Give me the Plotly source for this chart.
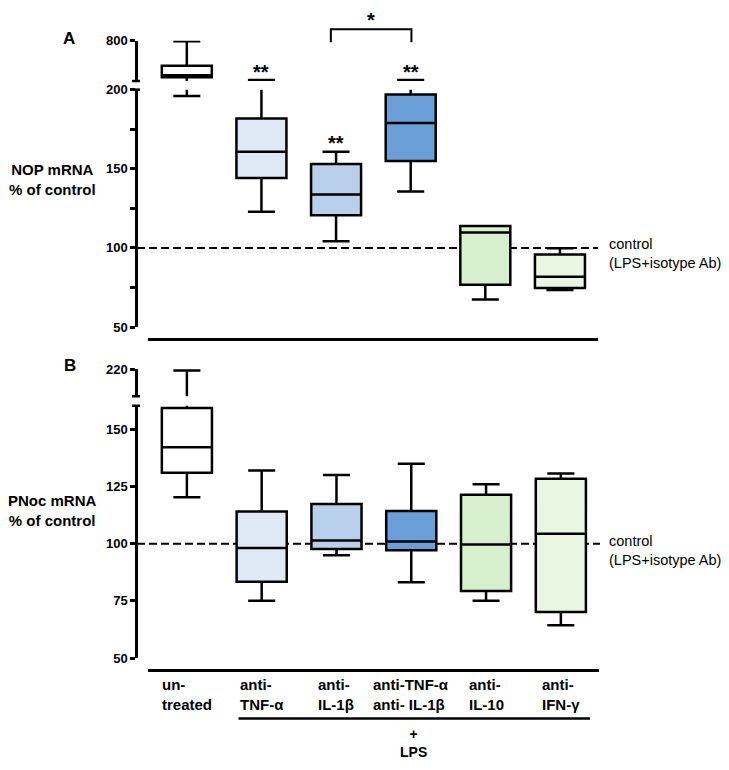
import plotly.graph_objects as go

W, H = 729, 770

# ---------------- data ----------------
categories = ["un-<br>treated", "anti-<br>TNF-α", "anti-<br>IL-1β",
              "anti-TNF-α<br>anti- IL-1β", "anti-<br>IL-10", "anti-<br>IFN-γ"]
box_colors = ["#ffffff", "#dfe9f5", "#b9d0ec", "#6b9fd8", "#d7efcd", "#e9f6e2"]

# Panel A: NOP mRNA % of control
nop_lower = [196, 122.9, 104.2, 135.6, 67.4, 73.4]
nop_q1 = [302, 144.2, 120.7, 155.0, 76.7, 74.6]
nop_median = [330, 160.7, 133.7, 178.9, 109.7, 81.8]
nop_q3 = [458, 181.8, 153.1, 196.9, 113.9, 95.9]
nop_upper = [790, 263, 160.7, 263, 113.9, 99.8]

# Panel B: PNoc mRNA % of control
pnoc_lower = [120.3, 75.1, 95.0, 83.1, 75.1, 64.3]
pnoc_q1 = [131.0, 83.4, 97.7, 97.1, 79.3, 70.1]
pnoc_median = [142.2, 98.1, 101.4, 101.0, 99.6, 104.4]
pnoc_q3 = [159.3, 114.1, 117.4, 114.3, 121.4, 128.4]
pnoc_upper = [218.5, 132.0, 130.0, 135.0, 126.0, 130.7]

control_value = 100

nop_ticks_low = [50, 75, 100, 125, 150, 175, 200]
nop_ticktext_low = ["50", "", "100", "", "150", "", "200"]
nop_ticks_high = [800]
pnoc_ticks_low = [50, 75, 100, 125, 150]
pnoc_ticks_high = [220]

# ---------------- helpers ----------------
def px(p):
    return p / W

def py(p):
    return 1 - p / H

FONT = "Liberation Sans, Arial, sans-serif"
LW = 2.5
AXIS_X = 136

fig = go.Figure()

def add_boxes(lower, q1, med, q3, upper, xa, ya_list):
    for i in range(len(categories)):
        for ya in ya_list:
            fig.add_trace(go.Box(
                x=[i], q1=[q1[i]], median=[med[i]], q3=[q3[i]],
                lowerfence=[lower[i]], upperfence=[upper[i]],
                xaxis=xa, yaxis=ya,
                fillcolor=box_colors[i],
                line=dict(color="black", width=LW),
                width=0.67, whiskerwidth=0.54,
                boxpoints=False, showlegend=False, hoverinfo="skip",
            ))

add_boxes(nop_lower, nop_q1, nop_median, nop_q3, nop_upper, "x", ["y", "y2"])
add_boxes(pnoc_lower, pnoc_q1, pnoc_median, pnoc_q3, pnoc_upper, "x2", ["y3", "y4"])

yax_common = dict(
    anchor="free", position=px(AXIS_X), showline=True, linecolor="black",
    linewidth=LW, ticks="outside", ticklen=5, tickwidth=LW, tickcolor="black",
    showgrid=False, zeroline=False,
    tickfont=dict(family=FONT, size=13, color="black", weight="bold"),
)
xax_common = dict(
    anchor="free", showline=True, linecolor="black", linewidth=LW,
    showticklabels=False, ticks="", showgrid=False, zeroline=False,
    range=[-0.52, 5.51],
)

fig.update_layout(
    width=W, height=H, margin=dict(l=0, r=0, t=0, b=0),
    plot_bgcolor="white", paper_bgcolor="white",
    boxmode="overlay",
    xaxis=dict(domain=[px(148), px(598)], position=py(339), **xax_common),
    xaxis2=dict(domain=[px(148), px(599)], position=py(676), **xax_common),
    yaxis=dict(domain=[py(326.4), py(84.3)], range=[50, 200],
               tickvals=nop_ticks_low, ticktext=nop_ticktext_low, **yax_common),
    yaxis2=dict(domain=[py(75.5), py(34.3)], range=[250, 800],
                tickvals=nop_ticks_high, **yax_common),
    yaxis3=dict(domain=[py(664), py(406.7)], range=[50, 160.3],
                tickvals=pnoc_ticks_low, **yax_common),
    yaxis4=dict(domain=[py(397), py(369.3)], range=[190, 220],
                tickvals=pnoc_ticks_high, **yax_common),
)

shapes = []
# control dashed lines
for yref, x1 in (("y", 598), ("y3", 600)):
    shapes.append(dict(type="line", xref="paper", yref=yref,
                       x0=px(AXIS_X + 1), x1=px(x1), y0=control_value, y1=control_value,
                       line=dict(color="black", width=2, dash="8px,4px"), layer="below"))
# axis break caps
for yb in (75.5, 84.3, 397, 406.7):
    shapes.append(dict(type="line", xref="paper", yref="paper",
                       x0=px(AXIS_X - 4), x1=px(AXIS_X + 4), y0=py(yb), y1=py(yb),
                       line=dict(color="black", width=LW)))
# significance bracket between anti-IL-1β and combined
shapes.append(dict(type="path", xref="x", yref="paper",
                   path=f"M 1.93 {py(36)} L 1.93 {py(22.7)} L 3.01 {py(22.7)} L 3.01 {py(36)}",
                   line=dict(color="black", width=2)))
# LPS underline
shapes.append(dict(type="line", xref="x2", yref="paper", x0=0.69, x1=5.39,
                   y0=py(725.7), y1=py(725.7), line=dict(color="black", width=LW)))

annotations = []
def ann(text, x, y, xref="paper", yref="paper", size=15, bold=True, xanchor="center",
        yanchor="middle", align="center"):
    annotations.append(dict(
        text=text, x=x, y=y, xref=xref, yref=yref, showarrow=False,
        xanchor=xanchor, yanchor=yanchor, align=align,
        font=dict(family=FONT, size=size, color="black", weight="bold" if bold else "normal"),
    ))

ann("A", px(69), py(32), size=17)
ann("B", px(70), py(366), size=17)
ann("NOP mRNA<br>% of control", px(52), py(176), size=15)
ann("PNoc mRNA<br>% of control", px(52), py(513), size=15)
ann("control<br>(LPS+isotype Ab)", px(607), py(251.5), size=14.5, bold=False,
    xanchor="left", align="left")
ann("control<br>(LPS+isotype Ab)", px(607), py(554), size=14.5, bold=False,
    xanchor="left", align="left")
# stars
ann("**", 1, py(66), xref="x", size=20)
ann("**", 2, py(139), xref="x", size=20)
ann("**", 3, py(66), xref="x", size=20)
ann("*", 2.47, py(13), xref="x", size=20)
# category labels
for i, c in enumerate(categories):
    ann(c, i, py(701.5), xref="x2", size=15, align="left")
ann("+<br>LPS", 3.03, py(750.5), xref="x2", size=14)

fig.update_layout(shapes=shapes, annotations=annotations)

post = (
    "var h=document.documentElement,b=document.body;"
    "h.style.margin='0';h.style.padding='0';h.style.overflow='hidden';"
    "b.style.margin='0';b.style.padding='0';b.style.overflow='hidden';"
    "var d=document.getElementsByClassName('plotly-graph-div')[0];"
    "if(d){d.style.position='absolute';d.style.left='0px';d.style.top='0px';}"
)
fig.write_html("out.html", config={"displayModeBar": False}, post_script=post)
